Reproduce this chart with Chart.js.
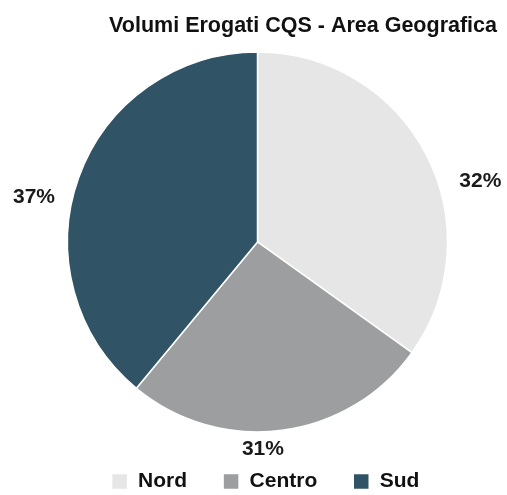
<!DOCTYPE html>
<html>
<head>
<meta charset="utf-8">
<script src="https://cdn.jsdelivr.net/npm/chart.js@4/dist/chart.umd.min.js"></script>
<style>
html,body{margin:0;padding:0;background:#fff;}
#wrap{width:507px;height:495px;}
</style>
</head>
<body>
<div id="wrap"><canvas id="c" width="507" height="495"></canvas></div>
<script>
const categories = ["Nord", "Centro", "Sud"];
const sliceValues = [34.9, 26.1, 39.0];
const percentLabels = ["32%", "31%", "37%"];
const colors = ["#e6e6e6", "#9d9ea0", "#315366"];

// label placement (angle clockwise from top in degrees, distance as multiple of radius)
const labelPlacement = [
  {angle: 74.7, dist: 1.216},
  {angle: 178.5, dist: 1.089},
  {angle: 281.2, dist: 1.199}
];

const FONT = "'Liberation Sans', Arial, sans-serif";

const outsideLabels = {
  id: 'outsideLabels',
  afterDatasetsDraw(chart) {
    const ctx = chart.ctx;
    const meta = chart.getDatasetMeta(0);
    ctx.save();
    ctx.font = "bold 21px " + FONT;
    ctx.fillStyle = "#1a1a1a";
    ctx.textAlign = "center";
    ctx.textBaseline = "middle";
    meta.data.forEach((arc, i) => {
      const p = labelPlacement[i];
      const a = (p.angle - 90) * Math.PI / 180;
      const r = arc.outerRadius * p.dist;
      ctx.fillText(percentLabels[i], arc.x + Math.cos(a) * r, arc.y + Math.sin(a) * r);
    });
    ctx.restore();
  }
};

// nudge the legend block slightly to the right
const legendShift = {
  id: 'legendShift',
  afterLayout(chart) {
    if (chart.legend) {
      chart.legend.left += 8;
      chart.legend.right += 8;
    }
  }
};

new Chart(document.getElementById('c'), {
  type: 'pie',
  data: {
    labels: categories,
    datasets: [{
      data: sliceValues,
      backgroundColor: colors,
      borderColor: "#ffffff",
      borderWidth: 1.5,
      hoverOffset: 0
    }]
  },
  options: {
    responsive: false,
    animation: false,
    radius: 190,
    layout: {padding: {left: 18, right: 10, top: 0, bottom: -7}},
    plugins: {
      title: {
        display: true,
        text: "Volumi Erogati CQS - Area Geografica",
        align: 'end',
        color: "#111111",
        font: {family: FONT, size: 21.5, weight: 'bold'},
        padding: {top: 13, bottom: 10}
      },
      legend: {
        position: 'bottom',
        labels: {
          boxWidth: 16,
          boxHeight: 16,
          color: "#111111",
          font: {family: FONT, size: 21, weight: 'bold'},
          padding: 36
        }
      },
      tooltip: {enabled: false}
    }
  },
  plugins: [outsideLabels, legendShift]
});
</script>
</body>
</html>
